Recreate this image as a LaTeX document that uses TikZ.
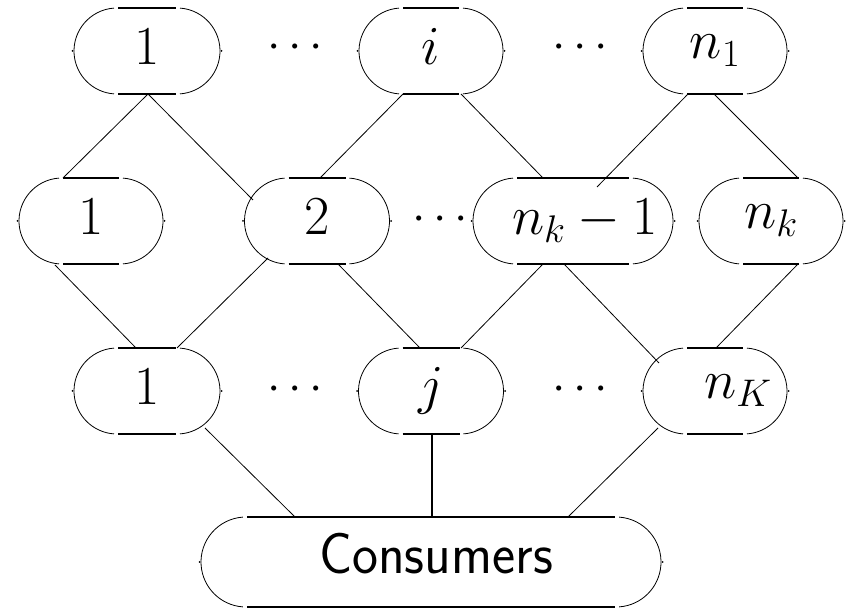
\RequirePackage{fix-cm}
\documentclass[tikz,border=0pt]{standalone}
\usepackage{graphicx}
\usetikzlibrary{calc}
\begin{document}
\begin{tikzpicture}[x=1pt,y=1pt]
\useasboundingbox (0,0) rectangle (848,610);
\tikzset{
  thickbar/.style={line width=2.6pt},
  thinarc/.style={line width=0.8pt},
  conn/.style={line width=0.8pt},
  trunk/.style={line width=2.2pt},
  lbl/.style={font=\fontsize{55}{60}\selectfont},
  dotsty/.style={font=\fontsize{48}{50}\selectfont, inner sep=0pt},
}
\newcommand\stad[6]{%
  \node[lbl, minimum width=2*#4pt+2*#5pt, minimum height=2*#5pt, inner sep=0pt] (#1) at (#2,#3) {\raisebox{9pt}{#6}};
  \draw[thickbar] ($(#1.center)+(-#4pt,#5pt)$) -- ($(#1.center)+(#4pt,#5pt)$);
  \draw[thickbar] ($(#1.center)+(-#4pt,-#5pt)$) -- ($(#1.center)+(#4pt,-#5pt)$);
  \draw[thinarc] ($(#1.center)+(#4pt+1pt,0)+(86:#5pt)$) arc[start angle=86,end angle=-86,radius=#5pt];
  \draw[thinarc] ($(#1.center)+(-#4pt-1pt,0)+(94:#5pt)$) arc[start angle=94,end angle=266,radius=#5pt];
  \fill ($(#1.center)+(#4pt+#5pt+2.5pt,0)$) circle[radius=1pt];
  \fill ($(#1.center)+(-#4pt-#5pt-2.5pt,0)$) circle[radius=1pt];
}
% top row
\stad{t1}{147}{559}{29}{43}{$1$}
\stad{ti}{431}{559}{28}{43}{$i$}
\stad{tn}{715}{559}{28}{43}{$n_1$}
% middle row
\stad{m1}{91}{389}{28}{43}{$1$}
\stad{m2}{317}{389}{28.5}{43}{$2$}
\stad{mk}{573}{389}{56}{43}{\hspace*{24pt}$n_k-1$}
\stad{mn}{771}{389}{28}{43}{$n_k$}
% bottom row
\stad{b1}{147}{219}{29}{43}{$1$}
\stad{bj}{431}{219}{28.5}{43}{$j$}
\stad{bK}{715}{219}{28}{43}{\hspace*{46pt}$n_K$}
% consumers
\stad{cs}{431}{48}{184}{45}{\hspace*{10pt}\raisebox{8pt}{\fontsize{58}{60}\sffamily\scalebox{0.95}[1]{Consumers}}}
% dots
\node[dotsty] (d1) at (295,562) {$\cdots$};
\node[dotsty] (d2) at (580,562) {$\cdots$};
\node[dotsty] (d3) at (440,390) {$\cdots$};
\node[dotsty] (d4) at (295,220) {$\cdots$};
\node[dotsty] (d5) at (580,220) {$\cdots$};
% connectors top -> middle
\draw[conn] ($(t1.center)+(1,-43)$) -- ($(m1.center)+(-28,43)$);
\draw[conn] ($(t1.center)+(1,-43)$) -- ($(m2.center)+(-64,21)$);
\draw[conn] ($(ti.center)+(-28,-43)$) -- ($(m2.center)+(3,43)$);
\draw[conn] ($(ti.center)+(30,-43)$) -- ($(mk.center)+(-30,43)$);
\draw[conn] ($(tn.center)+(-27,-43)$) -- ($(mk.center)+(24,34)$);
\draw[conn] ($(tn.center)+(-1,-43)$) -- ($(mn.center)+(27,43)$);
% middle -> bottom
\draw[conn] ($(m1.center)+(-36,-44)$) -- ($(b1.center)+(-11,43)$);
\draw[conn] ($(b1.center)+(30,43)$) -- ($(m2.center)+(-49,-37)$);
\draw[conn] ($(m2.center)+(21,-43)$) -- ($(bj.center)+(-11,43)$);
\draw[conn] ($(bj.center)+(30,43)$) -- ($(mk.center)+(-30,-43)$);
\draw[conn] ($(mk.center)+(-9,-43)$) -- ($(bK.center)+(-56,28)$);
\draw[conn] ($(mn.center)+(27,-43)$) -- ($(bK.center)+(1,43)$);
% bottom -> consumers
\draw[conn] ($(b1.center)+(58,-37)$) -- ($(cs.center)+(-136,45)$);
\draw[trunk] ($(bj.center)+(1,-43)$) -- ($(cs.center)+(1,45)$);
\draw[conn] ($(bK.center)+(-57,-37)$) -- ($(cs.center)+(137,45)$);
\end{tikzpicture}
\end{document}
